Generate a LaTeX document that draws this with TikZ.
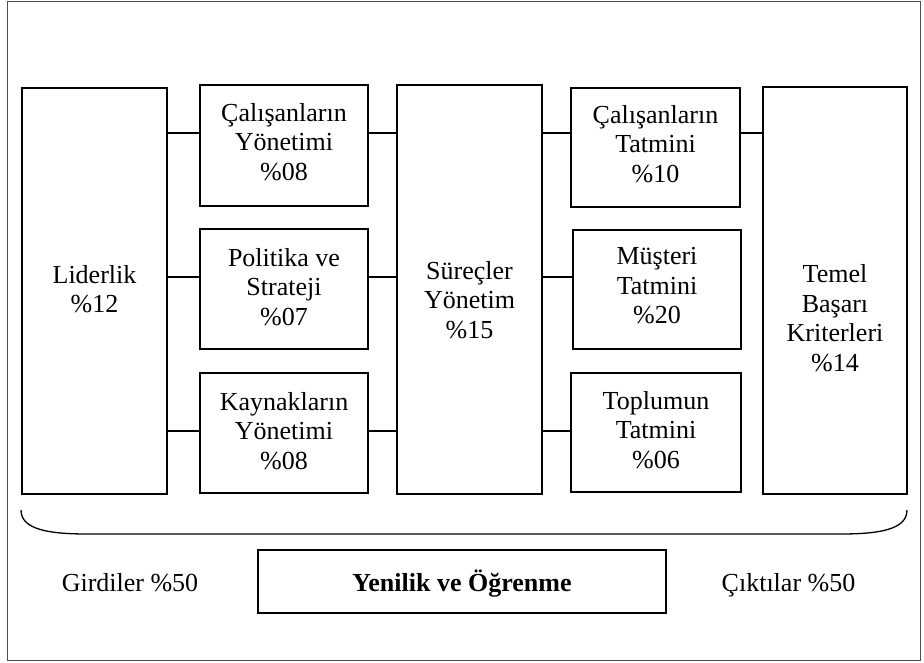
\documentclass[tikz,border=0pt]{standalone}
\usepackage{fontspec}
\setmainfont{Liberation Serif}
\begin{document}
\begin{tikzpicture}[x=1pt, y=-1pt,
  box/.style={draw, line width=1.4pt, inner sep=0pt, fill=white},
  txt/.style={align=center, inner sep=0pt, font=\fontsize{26}{29.5}\selectfont},
  link/.style={line width=1.4pt},
  frame/.style={draw=black!70, line width=1pt}]
\useasboundingbox (0,0) rectangle (924,662);
\draw[frame] (7,1) rectangle (920,660);

% rows of the horizontal connectors
\coordinate (r1) at (0,133);
\coordinate (r2) at (0,277);
\coordinate (r3) at (0,431);

% enablers
\node[box, minimum width=145pt, minimum height=406pt] (lid) at (94.5,291) {};
\node[txt] (lidT) at (94.5,289) {Liderlik\\\%12};
\node[box, minimum width=168pt, minimum height=121pt] (cy) at (284,145.5) {};
\node[txt] (cyT) at (284,142) {Çalışanların\\Yönetimi\\\%08};
\node[box, minimum width=168pt, minimum height=120pt] (ps) at (284,289) {};
\node[txt] (psT) at (284,287) {Politika ve\\Strateji\\\%07};
\node[box, minimum width=168pt, minimum height=120pt] (ky) at (284,433) {};
\node[txt] (kyT) at (284,431) {Kaynakların\\Yönetimi\\\%08};
\node[box, minimum width=145pt, minimum height=409pt] (sy) at (469.5,289.5) {};
\node[txt] (syT) at (469.5,300) {Süreçler\\Yönetim\\\%15};

% results
\node[box, minimum width=169pt, minimum height=119pt] (ct) at (655.5,147.5) {};
\node[txt] (ctT) at (655.5,144) {Çalışanların\\Tatmini\\\%10};
\node[box, minimum width=168pt, minimum height=119pt] (mt) at (657,289.5) {};
\node[txt] (mtT) at (657,286) {Müşteri\\Tatmini\\\%20};
\node[box, minimum width=170pt, minimum height=119pt] (tt) at (656,432.5) {};
\node[txt] (ttT) at (656,430) {Toplumun\\Tatmini\\\%06};
\node[box, minimum width=144pt, minimum height=407pt] (tb) at (835,290.5) {};
\node[txt] (tbT) at (835,318) {Temel\\Başarı\\Kriterleri\\\%14};

% connectors
\draw[link] (lid.east |- r1) -- (cy.west |- r1);
\draw[link] (lid.east |- r2) -- (ps.west |- r2);
\draw[link] (lid.east |- r3) -- (ky.west |- r3);
\draw[link] (cy.east |- r1) -- (sy.west |- r1);
\draw[link] (ps.east |- r2) -- (sy.west |- r2);
\draw[link] (ky.east |- r3) -- (sy.west |- r3);
\draw[link] (sy.east |- r1) -- (ct.west |- r1);
\draw[link] (sy.east |- r2) -- (mt.west |- r2);
\draw[link] (sy.east |- r3) -- (tt.west |- r3);
\draw[link] (ct.east |- r1) -- (tb.west |- r1);

% bracket under the model
\coordinate (bl) at (21,510);
\coordinate (br) at (907,510);
\draw[line width=1.3pt] (bl) .. controls (21,530) and (50,534) .. (88,534)
  -- (840,534) .. controls (878,534) and (907,530) .. (br);

% innovation and learning
\node[box, minimum width=408pt, minimum height=63pt] (yo) at (462,581.5) {};
\node[txt, anchor=base, font=\fontsize{26}{29.5}\selectfont\bfseries] (yoT) at (462,591)
  {Yenilik ve Öğrenme};
\node[txt, anchor=base] (gi) at (130,591) {Girdiler \%50};
\node[txt, anchor=base] (ci) at (788.5,591) {Çıktılar \%50};
\end{tikzpicture}
\end{document}
